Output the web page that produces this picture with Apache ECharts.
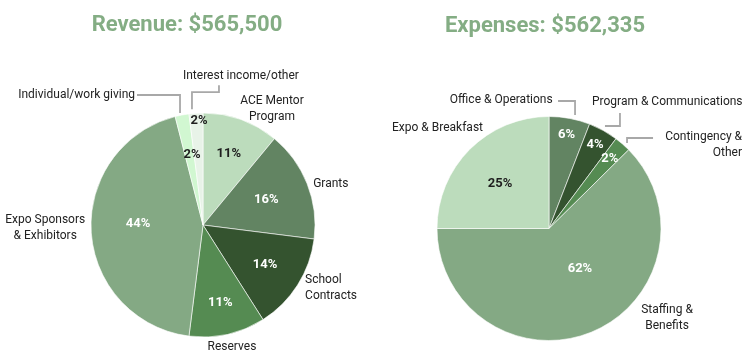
<!DOCTYPE html>
<html><head><meta charset="utf-8">
<script src="https://cdn.jsdelivr.net/npm/echarts@6/dist/echarts.min.js"></script>
<style>html,body{margin:0;padding:0;background:#fff}#c{width:750px;height:350px}</style>
</head><body><div id="c"></div>
<script>
// ---- data ----
const revenueTitle = 'Revenue: $565,500';
const expenseTitle = 'Expenses: $562,335';
const revenueCategories = ['ACE Mentor\nProgram', 'Grants', 'School\nContracts', 'Reserves', 'Expo Sponsors\n& Exhibitors', 'Individual/work giving', 'Interest income/other'];
const revenueValues = [11, 16, 14, 11, 44, 2, 2];
const expenseCategories = ['Office & Operations', 'Program & Communications', 'Contingency &\nOther', 'Staffing &\nBenefits', 'Expo & Breakfast'];
const expenseValues = [5.9, 4.3, 2.4, 62.4, 25.0];

// ---- styles ----
const revenueColors = ['#bcdcbc', '#628462', '#34532f', '#558b52', '#84a984', '#d1f7d1', '#e8f3e8'];
const expenseColors = ['#628462', '#34532f', '#558b52', '#84a984', '#bcdcbc'];
const revenuePctText = ['#1f1f1f', '#fff', '#fff', '#fff', '#fff', '#1f1f1f', '#1f1f1f'];
const expensePctText = ['#fff', '#fff', '#fff', '#fff', '#1f1f1f'];
const TITLE_COLOR = '#84ad84';
const FONT = 'Roboto, "Noto Sans", sans-serif';

// ---- geometry / layout ----
const R = 112;
const revCenter = [203, 225];
const expCenter = [549, 228.5];

// percent label placement: [radius, dx, dy]
const revPctLayout = [[76,0,0],[68,0,0],[73.5,0,0],[79.6,0,0],[65,0,-5],[72,2.5,0],[104,2.5,0]];
const expPctLayout = [[95,0,0],[95,0,-1],[92.6,0,0],[51,11.6,-6.7],[66.5,-2,1.8]];

// name label placement relative to slice edge at mid-angle
const revNameLayout = [
  {dx: 31, dy: -10.6, align: 'center'},
  {dx: 6, dy: 0, align: 'left'},
  {dx: 7.5, dy: 3, align: 'left'},
  {dx: 4.5, dy: 13, align: 'center'},
  {dx: -46, dy: -4, align: 'center'},
  {dx: -47, dy: -20, align: 'right', line: [[-2,-2],[-2,-20],[-45,-20]]},
  {dx: -13, dy: -37, align: 'left', line: [[-4,-4],[-4,-21],[23,-21],[23,-28]]}
];
const expNameLayout = [
  {dx: -17, dy: -18.4, align: 'right', line: [[5.4,-3.4],[5.4,-17.4],[-11.6,-17.4]]},
  {dx: -11.3, dy: -28.5, align: 'left', line: [[1.7,-4.5],[16.7,-4.5],[16.7,-17.5]]},
  {dx: 119.5, dy: 1, align: 'right', line: [[4.5,-1],[4.5,-6],[30.5,-6]]},
  {dx: 75.5, dy: -14, align: 'center'},
  {dx: -77.8, dy: -21.3, align: 'left'}
];

function sum(a) { return a.reduce((s, v) => s + v, 0); }
function midAngles(values) {
  const total = sum(values); let acc = 0;
  return values.map(v => { const a = (acc + v / 2) / total * 2 * Math.PI; acc += v; return a; });
}
function polar(c, r, a) { return [c[0] + r * Math.sin(a), c[1] - r * Math.cos(a)]; }

function pctSeries(center, cats, values, colors, textColors, layout) {
  const total = sum(values);
  const mids = midAngles(values);
  return {
    type: 'pie', center: center, radius: R, startAngle: 90, clockwise: true,
    avoidLabelOverlap: false, silent: true, animation: false,
    itemStyle: { borderColor: '#fff', borderWidth: 0.6 },
    data: values.map((v, i) => ({
      name: cats[i], value: v,
      itemStyle: { color: colors[i] },
      label: { color: textColors[i] }
    })),
    label: {
      show: true, position: 'inside', fontFamily: FONT, fontWeight: 'bold', fontSize: 13,
      formatter: p => Math.round(p.value / total * 100) + '%'
    },
    labelLine: { show: false },
    labelLayout: function (p) {
      const L = layout[p.dataIndex];
      const pt = polar(center, L[0], mids[p.dataIndex]);
      return { x: pt[0] + L[1], y: pt[1] + L[2], align: 'center', verticalAlign: 'middle' };
    }
  };
}

function nameSeries(center, cats, values, cfg) {
  const mids = midAngles(values);
  return {
    type: 'pie', center: center, radius: R, startAngle: 90, clockwise: true,
    avoidLabelOverlap: false, silent: true, animation: false,
    itemStyle: { color: 'rgba(0,0,0,0)' },
    data: values.map((v, i) => ({
      name: cats[i], value: v,
      labelLine: { show: !!cfg[i].line }
    })),
    label: {
      show: true, position: 'outside', formatter: '{b}', color: '#222',
      fontFamily: FONT, fontSize: 12, lineHeight: 16
    },
    labelLine: { show: true, lineStyle: { color: '#a8a8a8', width: 1.8 } },
    labelLayout: function (p) {
      const c = cfg[p.dataIndex];
      const e = polar(center, R, mids[p.dataIndex]);
      const out = { x: e[0] + c.dx, y: e[1] + c.dy, align: c.align, verticalAlign: 'middle' };
      if (c.line) out.labelLinePoints = c.line.map(o => [e[0] + o[0], e[1] + o[1]]);
      return out;
    }
  };
}

const chart = echarts.init(document.getElementById('c'), null, { renderer: 'canvas' });
chart.setOption({
  animation: false,
  graphic: [
    { type: 'text', x: 187, y: 25, style: { text: revenueTitle, fill: TITLE_COLOR, font: 'bold 22px ' + FONT, align: 'center', verticalAlign: 'middle', textAlign: 'center', textVerticalAlign: 'middle' } },
    { type: 'text', x: 545, y: 26, style: { text: expenseTitle, fill: TITLE_COLOR, font: 'bold 22px ' + FONT, align: 'center', verticalAlign: 'middle', textAlign: 'center', textVerticalAlign: 'middle' } }
  ],
  series: [
    pctSeries(revCenter, revenueCategories, revenueValues, revenueColors, revenuePctText, revPctLayout),
    nameSeries(revCenter, revenueCategories, revenueValues, revNameLayout),
    pctSeries(expCenter, expenseCategories, expenseValues, expenseColors, expensePctText, expPctLayout),
    nameSeries(expCenter, expenseCategories, expenseValues, expNameLayout)
  ]
});
</script>
</body></html>
